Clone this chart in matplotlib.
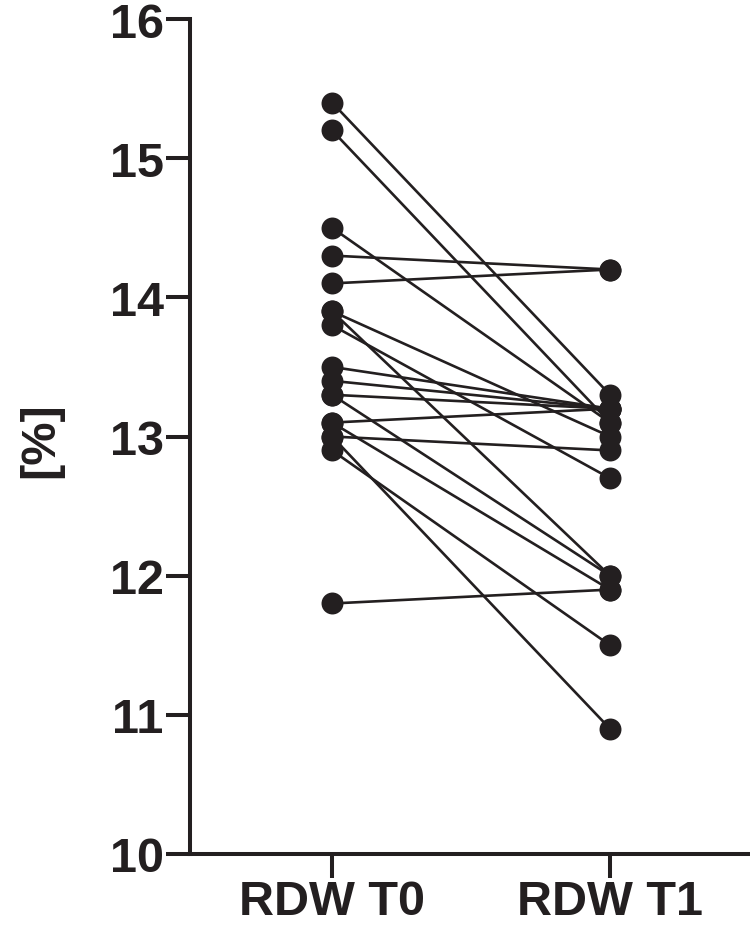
import matplotlib
matplotlib.use("Agg")
import matplotlib.pyplot as plt

categories = ["RDW T0", "RDW T1"]
rdw_t0 = [15.4, 15.2, 14.5, 14.3, 14.1, 13.9, 13.9, 13.8, 13.5, 13.4, 13.3, 13.3, 13.1, 13.1, 13.0, 13.0, 12.9, 11.8]
rdw_t1 = [13.3, 13.1, 13.1, 14.2, 14.2, 13.0, 12.0, 12.7, 13.2, 13.2, 13.2, 12.0, 13.2, 11.9, 12.9, 10.9, 11.5, 11.9]
y_ticks = [10, 11, 12, 13, 14, 15, 16]
y_label = "[%]"

plt.rcParams['font.family'] = ['Liberation Sans', 'DejaVu Sans']
ink = "#231f20"

fig = plt.figure(figsize=(7.5, 9.29), dpi=100)
ax = fig.add_axes([190/750, 1-855/929, 560/750, 835/929])

xs = [0, 1]
for a, b in zip(rdw_t0, rdw_t1):
    ax.plot(xs, [a, b], color=ink, lw=1.9, solid_capstyle='butt', zorder=2, clip_on=False)
ax.plot([0]*len(rdw_t0), rdw_t0, 'o', color=ink, ms=15.8, mew=0, zorder=3, clip_on=False)
ax.plot([1]*len(rdw_t1), rdw_t1, 'o', color=ink, ms=15.8, mew=0, zorder=3, clip_on=False)

ax.set_xlim(-142/278, 1 + 140/278)
ax.set_ylim(10, 16)
ax.set_yticks(y_ticks)
ax.set_yticklabels([str(t) for t in y_ticks])
ax.set_xticks(xs)
ax.set_xticklabels(categories)

for s in ['top', 'right']:
    ax.spines[s].set_visible(False)
for s in ['left', 'bottom']:
    ax.spines[s].set_linewidth(2.9)
    ax.spines[s].set_color(ink)
    ax.spines[s].set_capstyle('projecting')

ax.tick_params(axis='both', direction='out', length=17, width=2.9, color=ink,
               labelsize=35, labelcolor=ink)
ax.tick_params(axis='y', pad=2)
ax.tick_params(axis='x', pad=1)
for lab in ax.get_xticklabels() + ax.get_yticklabels():
    lab.set_fontweight('bold')

fig.text(41/750, 1-440/929, y_label, rotation=90, ha='center', va='center',
         fontsize=35, fontweight='bold', color=ink)

fig.savefig("out.png", dpi=100)
